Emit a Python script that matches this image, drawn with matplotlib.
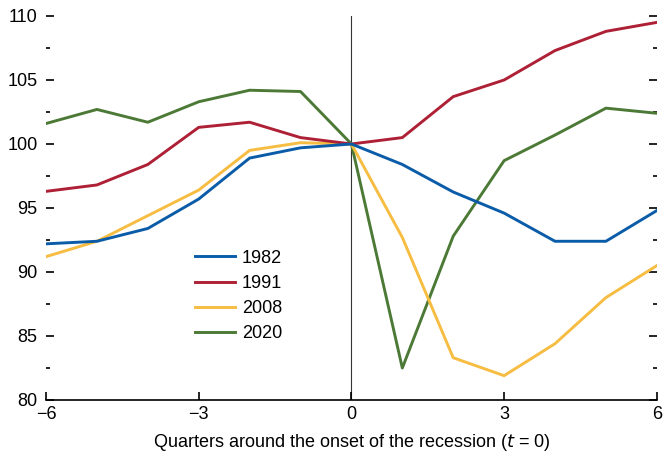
import matplotlib
matplotlib.use("Agg")
import matplotlib.pyplot as plt
from matplotlib.ticker import MultipleLocator

plt.rcParams["font.family"] = ["Liberation Sans Narrow", "Liberation Sans", "DejaVu Sans"]

quarters = list(range(-6, 7))
s1982 = [92.2, 92.4, 93.4, 95.7, 98.9, 99.7, 100.0, 98.4, 96.25, 94.6, 92.4, 92.4, 94.8]
s1991 = [96.3, 96.8, 98.4, 101.3, 101.7, 100.5, 100.0, 100.5, 103.7, 105.0, 107.3, 108.8, 109.5]
s2008 = [91.2, 92.4, 94.4, 96.4, 99.5, 100.1, 100.0, 92.7, 83.3, 81.9, 84.4, 88.0, 90.5]
s2020 = [101.6, 102.7, 101.7, 103.3, 104.2, 104.1, 100.0, 82.5, 92.8, 98.7, 100.7, 102.8, 102.4]

series = [
    ("1982", s1982, "#0a5ca8"),
    ("1991", s1991, "#ae2035"),
    ("2008", s2008, "#f6bd42"),
    ("2020", s2020, "#4c7a36"),
]

fig = plt.figure(figsize=(6.69, 4.65), dpi=100)
ax = fig.add_axes([0.0688, 0.1398, 0.913, 0.8258])

ax.axvline(0, color="#333333", lw=0.8, zorder=1)
for i, (name, vals, col) in enumerate(series):
    ax.plot(quarters, vals, color=col, lw=2.1, label=name, zorder=5 - i)

ax.set_xlim(-6, 6)
ax.set_ylim(80, 110)
ax.set_xticks([-6, -3, 0, 3, 6])
ax.set_xticklabels(["\u22126", "\u22123", "0", "3", "6"])
ax.yaxis.set_major_locator(MultipleLocator(5))
ax.yaxis.set_minor_locator(MultipleLocator(2.5))

for side in ["left", "right", "top"]:
    ax.spines[side].set_visible(False)
ax.spines["bottom"].set_linewidth(1.2)

ax.tick_params(axis="x", direction="in", length=6, width=1.2, labelsize=13, pad=4)
ax.tick_params(axis="y", which="major", direction="in", length=6, width=1.2,
               left=True, right=True, labelsize=13, pad=6)
ax.tick_params(axis="y", which="minor", direction="in", length=3, width=1.2,
               left=True, right=True)

ax.set_xlabel("Quarters around the onset of the recession ($\\it{t}$ = 0)", fontsize=13, labelpad=7)

ax.legend(loc="upper left", bbox_to_anchor=(0.232, 0.41), frameon=False, fontsize=13,
          handlelength=2.2, handletextpad=0.4, labelspacing=0.45, borderaxespad=0)

fig.savefig("out.png", dpi=100)
